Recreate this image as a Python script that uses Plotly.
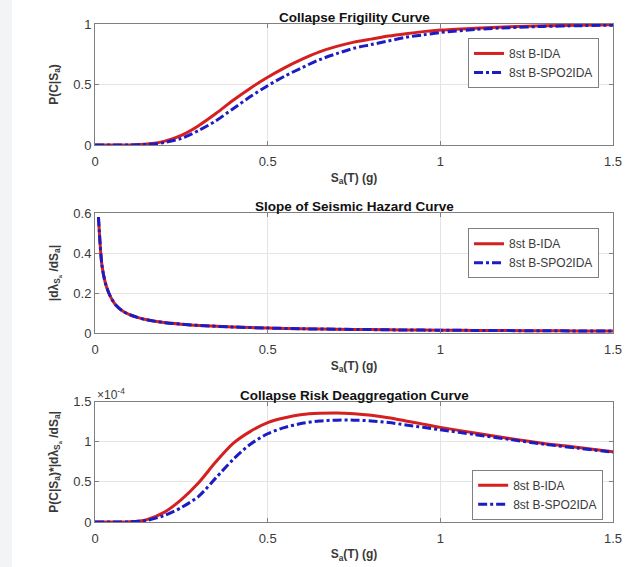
import plotly.graph_objects as go

# ---------------- data ----------------
sa_frag = [0, 0.05, 0.1, 0.15, 0.2, 0.25, 0.3, 0.35, 0.4, 0.45, 0.5, 0.55, 0.6, 0.65, 0.7,
           0.75, 0.8, 0.85, 0.9, 0.95, 1.0, 1.1, 1.2, 1.3, 1.4, 1.5]
frag_ida = [0, 0, 0.001, 0.008, 0.03, 0.08, 0.16, 0.26, 0.37, 0.47, 0.56, 0.64, 0.71, 0.77, 0.815,
            0.85, 0.875, 0.9, 0.92, 0.937, 0.95, 0.965, 0.977, 0.985, 0.99, 0.993]
frag_spo = [0, 0, 0.0005, 0.005, 0.02, 0.055, 0.12, 0.2, 0.3, 0.4, 0.49, 0.57, 0.64, 0.705, 0.755,
            0.8, 0.83, 0.86, 0.89, 0.91, 0.93, 0.955, 0.97, 0.98, 0.986, 0.99]

sa_haz = [0.01, 0.02, 0.03, 0.04, 0.05, 0.06, 0.08, 0.1, 0.125, 0.15, 0.2, 0.25, 0.3, 0.4, 0.5,
          0.6, 0.7, 0.8, 0.9, 1.0, 1.1, 1.2, 1.3, 1.4, 1.5]
haz_ida = [0.58, 0.34, 0.25, 0.2, 0.165, 0.14, 0.11, 0.092, 0.077, 0.066, 0.052, 0.044, 0.038,
           0.03, 0.025, 0.021, 0.019, 0.017, 0.015, 0.014, 0.013, 0.012, 0.011, 0.0105, 0.01]
haz_spo = haz_ida[:]

sa_deagg = sa_frag
deagg_ida_e4 = [0, 0, 0.002, 0.03, 0.12, 0.28, 0.49, 0.75, 0.98, 1.13, 1.24, 1.3, 1.34, 1.355, 1.36,
                1.35, 1.33, 1.3, 1.26, 1.22, 1.18, 1.11, 1.04, 0.98, 0.93, 0.875]
deagg_spo_e4 = [0, 0, 0.001, 0.02, 0.08, 0.18, 0.32, 0.55, 0.78, 0.97, 1.1, 1.18, 1.23, 1.26, 1.27,
                1.27, 1.26, 1.24, 1.21, 1.18, 1.15, 1.09, 1.03, 0.97, 0.92, 0.87]

x_ticks = [0, 0.5, 1, 1.5]
x_ticklabels = ["0", "0.5", "1", "1.5"]
names = ["8st B-IDA", "8st B-SPO2IDA"]
titles = ["Collapse Frigility Curve", "Slope of Seismic Hazard Curve",
          "Collapse Risk Deaggregation Curve"]

# ---------------- styling ----------------
RED = "#d42020"
BLUE = "#1c1cc4"
FONT = "Liberation Sans, Arial, sans-serif"
AX = "#808080"
GRID = "#e4e4e4"
TXT = "#3a3a3a"

fig = go.Figure()

panels = [
    (sa_frag, frag_ida, frag_spo, ""),
    (sa_haz, haz_ida, haz_spo, "2"),
    (sa_deagg, deagg_ida_e4, deagg_spo_e4, "3"),
]
for xs, y1, y2, k in panels:
    leg = "legend" + k
    fig.add_trace(go.Scatter(x=xs, y=y1, mode="lines", name=names[0], xaxis="x" + k, yaxis="y" + k,
                             line=dict(color=RED, width=3, shape="spline", smoothing=0.8),
                             legend=leg))
    fig.add_trace(go.Scatter(x=xs, y=y2, mode="lines", name=names[1], xaxis="x" + k, yaxis="y" + k,
                             line=dict(color=BLUE, width=3, dash="dashdot", shape="spline",
                                       smoothing=0.8), legend=leg))

domains = [(0.757, 1.0), (0.3795, 0.6205), (0.0, 0.2416)]
yranges = [[0, 1], [0, 0.6], [0, 1.5]]
ytickvals = [[0, 0.5, 1], [0, 0.2, 0.4, 0.6], [0, 0.5, 1, 1.5]]
yticktext = [["0", "0.5", "1"], ["0", "0.2", "0.4", "0.6"], ["0", "0.5", "1", "1.5"]]
ylabels = ["<b>P(C|S<sub>a</sub>)</b>",
           "<b>|dλ<sub>S<sub>a</sub></sub> /dS<sub>a</sub>|</b>",
           "<b>P(C|S<sub>a</sub>)*|dλ<sub>S<sub>a</sub></sub> /dS<sub>a</sub>|</b>"]

common = dict(showline=True, linecolor=AX, linewidth=1, mirror="ticks", ticks="inside",
              ticklen=4, tickcolor=AX, showgrid=True, gridcolor=GRID, gridwidth=1,
              zeroline=False, automargin=False, tickfont=dict(size=13, color=TXT, family=FONT))

layout = {}
for i, k in enumerate(["", "2", "3"]):
    layout["xaxis" + k] = dict(common, domain=[0, 1], anchor="y" + k, range=[0, 1.5],
                               tickvals=x_ticks, ticktext=x_ticklabels, ticklabelstandoff=4,
                               title=dict(text="<b>S<sub>a</sub>(T) (g)</b>", standoff=5,
                                          font=dict(size=12, color=TXT, family=FONT)))
    layout["yaxis" + k] = dict(common, domain=list(domains[i]), anchor="x" + k, range=yranges[i],
                               tickvals=ytickvals[i], ticktext=yticktext[i],
                               title=dict(text=ylabels[i], standoff=12,
                                          font=dict(size=12, color=TXT, family=FONT)))

legend_common = dict(xanchor="right", yanchor="top", bgcolor="white", bordercolor=AX,
                     borderwidth=1, itemwidth=30, font=dict(size=12, color=TXT, family=FONT))
layout["legend"] = dict(legend_common, x=0.973, y=0.972)
layout["legend2"] = dict(legend_common, x=0.973, y=0.59)
layout["legend3"] = dict(legend_common, x=0.981, y=0.105)

annotations = []
for i, t in enumerate(titles):
    annotations.append(dict(text="<b>" + t + "</b>", x=0.5, y=domains[i][1], xref="paper",
                            yref="paper", xanchor="center", yanchor="bottom", showarrow=False,
                            font=dict(size=13.5, color="#111", family=FONT), yshift=-3))
annotations.append(dict(text="×10<sup>-4</sup>", x=0.0, y=domains[2][1], xref="paper", yref="paper",
                        xanchor="left", yanchor="bottom", showarrow=False,
                        font=dict(size=12, color=TXT, family=FONT), yshift=-2))

fig.update_layout(
    **layout,
    annotations=annotations,
    width=637, height=567,
    margin=dict(l=95, r=24, t=24, b=45, autoexpand=False),
    paper_bgcolor="white", plot_bgcolor="white",
    font=dict(family=FONT, color=TXT),
    shapes=[dict(type="rect", xref="paper", yref="paper", x0=-95 / 518, x1=(12 - 95) / 518,
                 y0=-45 / 498, y1=1 + 24 / 498, fillcolor="#f3f4f6", line=dict(width=0),
                 layer="below")],
)

fig.write_html("out.html", config={"displayModeBar": False},
               post_script="document.body.style.margin='0';document.body.style.overflow='hidden';")
